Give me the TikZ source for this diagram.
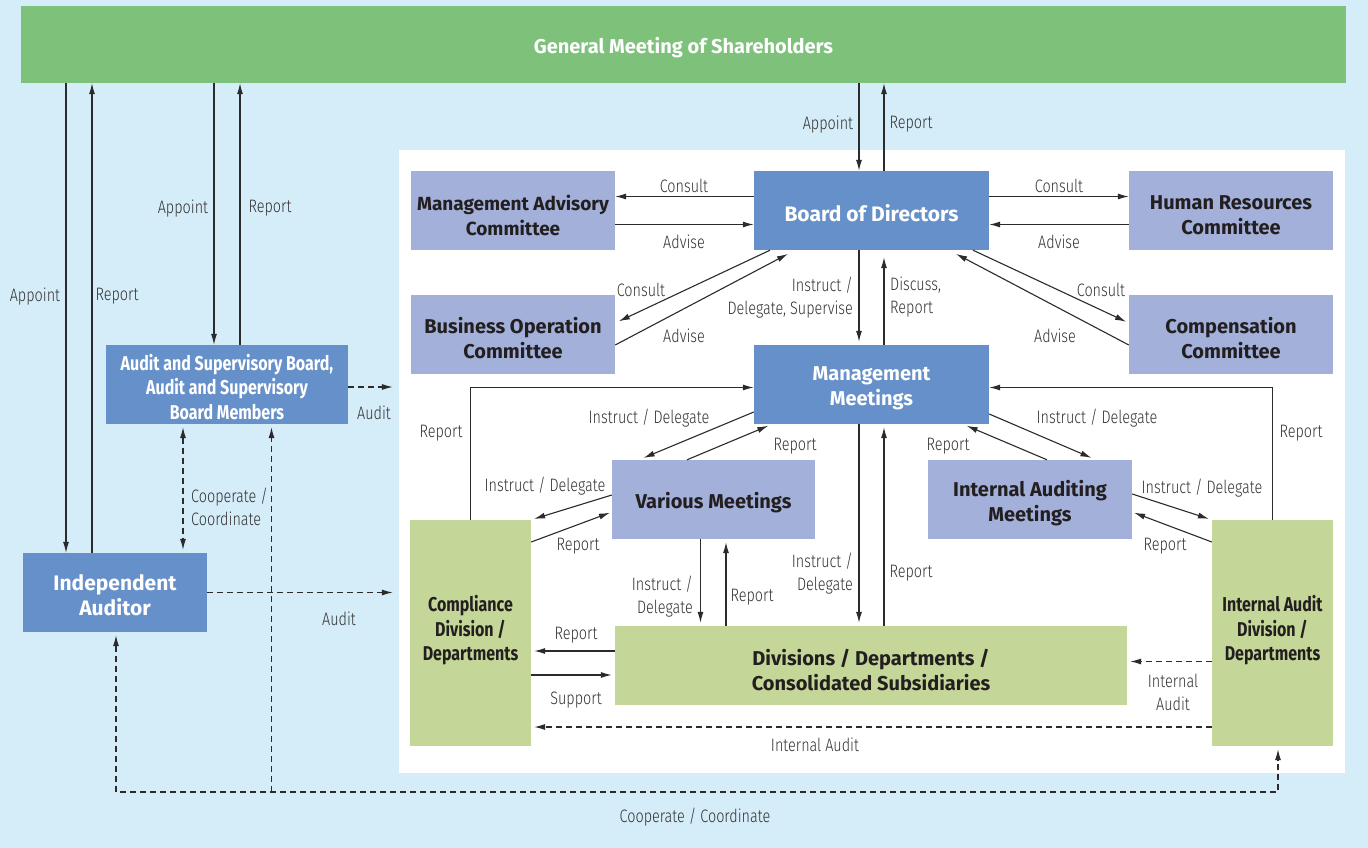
\documentclass[tikz,border=0pt]{standalone}
\usepackage{fontspec}
\setmainfont{Fira Sans}
\newfontfamily\labfont{Fira Sans Light}[FakeStretch=0.8]
\newfontfamily\narrowfont{Fira Sans}[FakeStretch=0.8]
\usetikzlibrary{arrows.meta}
\definecolor{BgBlue}{HTML}{D5ECF9}
\definecolor{TopGreen}{HTML}{7DC17A}
\definecolor{DirBlue}{HTML}{6690C9}
\definecolor{ComPurple}{HTML}{A2B0DA}
\definecolor{DivGreen}{HTML}{C4D698}
\definecolor{TextDark}{HTML}{231F20}
\definecolor{LblGray}{HTML}{333333}
\definecolor{LineGray}{HTML}{2B2B2B}

\begin{document}
\begin{tikzpicture}[x=1pt, y=-1pt,
    >={Latex[length=11pt,width=6pt]},
    tdown/.style={execute at begin node={\rule{0pt}{#1}}},
    box/.style={inner sep=0pt, align=center, font=\bfseries\fontsize{20}{25}\selectfont, tdown=22pt},
    dirbox/.style={box, fill=DirBlue, text=white},
    combox/.style={box, fill=ComPurple, text=TextDark},
    divbox/.style={box, fill=DivGreen, text=TextDark},
    narrow/.style={font=\narrowfont\bfseries\fontsize{20}{24.5}\selectfont},
    tallbox/.style={divbox, narrow, execute at begin node={}, execute at end node={\rule[-10pt]{0pt}{0pt}}},
    lbl/.style={font=\labfont\fontsize{18}{23}\selectfont, text=LblGray, inner sep=0pt, align=center, yshift=-1.5pt},
    arr/.style={->, line width=1.1pt, draw=LineGray},
    darr/.style={arr, dash pattern=on 6pt off 4pt}]

                                \useasboundingbox (0,0) rectangle (1368,848);
                                \fill[BgBlue] (0,0) rectangle (1368,848);
                                \node[fill=white, inner sep=0pt, minimum width=946pt, minimum height=623pt] (pnl) at (872,461.5) {};

                                % boxes
                                \node[box, fill=TopGreen, text=white, minimum width=1325pt, minimum height=77pt] (gms) at (683.5,44.5) {General Meeting of Shareholders};
                                \node[dirbox, minimum width=235pt, minimum height=79pt, font=\bfseries\fontsize{21}{25}\selectfont] (bod) at (871.5,210.5) {Board of Directors};
                                \node[combox, minimum width=204pt, minimum height=79pt, font=\bfseries\fontsize{19}{25}\selectfont, tdown=50pt] (mac) at (513,210.5) {Management Advisory\\Committee};
                                \node[combox, minimum width=204pt, minimum height=79pt, tdown=48pt] (hrc) at (1231,210.5) {Human Resources\\Committee};
                                \node[combox, minimum width=204pt, minimum height=79pt, tdown=48pt] (boc) at (513,334.5) {Business Operation\\Committee};
                                \node[combox, minimum width=204pt, minimum height=79pt, tdown=48pt] (cc) at (1231,334.5) {Compensation\\Committee};
                                \node[dirbox, minimum width=235pt, minimum height=79pt, tdown=46pt] (mm) at (871.5,384.5) {Management\\Meetings};
                                \node[combox, minimum width=203pt, minimum height=79pt] (vm) at (713.5,499.5) {Various Meetings};
                                \node[combox, minimum width=204pt, minimum height=79pt, tdown=48pt] (iam) at (1030,499.5) {Internal Auditing\\Meetings};
                                \node[tallbox, minimum width=121pt, minimum height=226pt] (comp) at (470.5,633) {Compliance\\Division /\\Departments};
                                \node[divbox, minimum width=512pt, minimum height=79pt, tdown=50pt] (dds) at (871,665.5) {Divisions / Departments /\\Consolidated Subsidiaries};
                                \node[tallbox, minimum width=121pt, minimum height=226pt] (iad) at (1272.5,633) {Internal Audit\\Division /\\Departments};
                                \node[dirbox, narrow, minimum width=242pt, minimum height=79pt, tdown=70pt] (asb) at (227,384.5) {Audit and Supervisory Board,\\Audit and Supervisory\\Board Members};
                                \node[dirbox, minimum width=184pt, minimum height=79pt, font=\bfseries\fontsize{21}{25}\selectfont, tdown=46.5pt] (ia) at (115,592.5) {Independent\\Auditor};

                                % shareholders
                                \draw[arr] ([xshift=-49pt]ia.north |- gms.south) -- ([xshift=-49pt]ia.north);
                                \draw[arr] ([xshift=-23pt]ia.north) -- ([xshift=-23pt]ia.north |- gms.south);
                                \draw[arr] ([xshift=-13pt]asb.north |- gms.south) -- ([xshift=-13pt]asb.north);
                                \draw[arr] ([xshift=13pt]asb.north) -- ([xshift=13pt]asb.north |- gms.south);
                                \draw[arr] ([xshift=-12.5pt]bod.north |- gms.south) -- ([xshift=-12.5pt]bod.north);
                                \draw[arr] ([xshift=12.5pt]bod.north) -- ([xshift=12.5pt]bod.north |- gms.south);

                                % board and committees
                                \draw[arr] ([yshift=14pt]bod.west) -- ([yshift=14pt]bod.west -| mac.east);
                                \draw[arr] ([yshift=-14pt]bod.west -| mac.east) -- ([yshift=-14pt]bod.west);
                                \draw[arr] ([yshift=14pt]bod.east) -- ([yshift=14pt]bod.east -| hrc.west);
                                \draw[arr] ([yshift=-14pt]bod.east -| hrc.west) -- ([yshift=-14pt]bod.east);
                                \draw[arr, shorten >=4pt] ([xshift=-101.5pt]bod.south) -- ([yshift=11.5pt]boc.east);
                                \draw[arr, shorten >=8pt] ([yshift=-10.5pt]boc.east) -- ([xshift=-76.5pt]bod.south);
                                \draw[arr, shorten >=3pt] ([xshift=101.5pt]bod.south) -- ([yshift=11.5pt]cc.west);
                                \draw[arr, shorten >=8pt] ([yshift=-10.5pt]cc.west) -- ([xshift=77.5pt]bod.south);
                                \draw[arr, shorten >=3pt] ([xshift=-12.5pt]bod.south) -- ([xshift=-12.5pt]mm.north);
                                \draw[arr, shorten >=7pt] ([xshift=12.5pt]mm.north) -- ([xshift=12.5pt]bod.south);

                                % management meetings
                                \draw[arr] (comp.north) |- ([yshift=-3pt]mm.west);
                                \draw[arr] (iad.north) |- ([yshift=-3pt]mm.east);
                                \draw[arr, shorten >=5pt] ([yshift=-27.5pt]mm.west) -- ([xshift=-74.5pt]vm.north);
                                \draw[arr, shorten >=4pt] ([xshift=-26.5pt]vm.north) -- ([xshift=-99.5pt]mm.south);
                                \draw[arr, shorten >=5pt] ([yshift=-29.5pt]mm.east) -- ([xshift=66pt]iam.north);
                                \draw[arr, shorten >=4pt] ([xshift=17pt]iam.north) -- ([xshift=91.5pt]mm.south);
                                \draw[arr, shorten >=3pt] ([yshift=4.5pt]vm.west) -- (comp.north east);
                                \draw[arr, shorten >=2pt] ([yshift=91pt]comp.east) -- ([yshift=-12.5pt]vm.west);
                                \draw[arr, shorten >=3pt] ([yshift=5.5pt]iam.east) -- (iad.north west);
                                \draw[arr, shorten >=2pt] ([yshift=91pt]iad.west) -- ([yshift=-12.5pt]iam.east);
                                \draw[arr, shorten >=3pt] ([xshift=-13pt]vm.south) -- ([xshift=-13pt]vm.south |- dds.north);
                                \draw[arr, shorten >=3pt] ([xshift=12.5pt]vm.south |- dds.north) -- ([xshift=12.5pt]vm.south);
                                \draw[arr, shorten >=3pt] ([xshift=-12.5pt]mm.south) -- ([xshift=-12.5pt]mm.south |- dds.north);
                                \draw[arr, shorten >=3pt] ([xshift=12.5pt]mm.south |- dds.north) -- ([xshift=12.5pt]mm.south);
                                \draw[arr, shorten >=3pt] ([yshift=14.5pt]dds.west) -- ([yshift=14.5pt]dds.west -| comp.east);
                                \draw[arr, shorten >=3pt] ([yshift=-9.5pt]dds.west -| comp.east) -- ([yshift=-9.5pt]dds.west);

                                % audit lines
                                \draw[darr, shorten >=3pt] ([yshift=4pt]dds.east -| iad.west) -- ([yshift=4pt]dds.east);
                                \draw[darr, shorten >=3pt] ([yshift=-94pt]iad.west) -- ([yshift=-94pt]iad.west -| comp.east);
                                \draw[darr, shorten >=6pt] ([yshift=-2.5pt]asb.east) -- ([yshift=-2.5pt]asb.east -| pnl.west);
                                \draw[darr, shorten >=6pt] (ia.east) -- (ia.east -| pnl.west);
                                \draw[darr, <->, shorten <=3pt, shorten >=3pt] ([xshift=-44pt]asb.south) -- ([xshift=-44pt]asb.south |- ia.north);
                                \coordinate (coop) at (695,792);
                                \draw[darr, <->, shorten <=3pt, shorten >=3pt] ([xshift=1pt]ia.south) -- ([xshift=1pt]ia.south |- coop) -| ([xshift=5.5pt]iad.south);
                                \draw[darr, shorten >=3pt] ([xshift=44.5pt]asb.south |- coop) -- ([xshift=44.5pt]asb.south);

                                % labels
                                \node[lbl] (l1) at (35,295) {Appoint};
                                \node[lbl] (l2) at (117,295) {Report};
                                \node[lbl] (l3) at (183,207) {Appoint};
                                \node[lbl] (l4) at (270,207) {Report};
                                \node[lbl] (l5) at (828,123) {Appoint};
                                \node[lbl] (l6) at (911,123) {Report};
                                \node[lbl] (l7) at (684,184) {Consult};
                                \node[lbl] (l8) at (684,240) {Advise};
                                \node[lbl] (l9) at (1059,184) {Consult};
                                \node[lbl] (l10) at (1059,240) {Advise};
                                \node[lbl] (l11) at (641,288) {Consult};
                                \node[lbl] (l12) at (684,334) {Advise};
                                \node[lbl] (l13) at (1101,288) {Consult};
                                \node[lbl] (l14) at (1055,334) {Advise};
                                \node[lbl, align=right, anchor=east] (l15) at (853,296) {Instruct /\\Delegate, Supervise};
                                \node[lbl, align=left, anchor=west] (l16) at (890,296) {Discuss,\\Report};
                                \node[lbl] (l17) at (441,432) {Report};
                                \node[lbl] (l18) at (1301,432) {Report};
                                \node[lbl] (l19) at (649,417) {Instruct / Delegate};
                                \node[lbl] (l20) at (795,445) {Report};
                                \node[lbl] (l21) at (1097,417) {Instruct / Delegate};
                                \node[lbl] (l22) at (948,445) {Report};
                                \node[lbl] (l23) at (545,485) {Instruct / Delegate};
                                \node[lbl] (l24) at (578,545) {Report};
                                \node[lbl] (l25) at (1202,487) {Instruct / Delegate};
                                \node[lbl] (l26) at (1165,545) {Report};
                                \node[lbl, align=right, anchor=east] (l27) at (693,595) {Instruct /\\Delegate};
                                \node[lbl] (l28) at (752,596) {Report};
                                \node[lbl, align=right, anchor=east] (l29) at (853,572) {Instruct /\\Delegate};
                                \node[lbl] (l30) at (911,572) {Report};
                                \node[lbl] (l31) at (576,634) {Report};
                                \node[lbl] (l32) at (576,699) {Support};
                                \node[lbl] (l33) at (1173,691) {Internal\\Audit};
                                \node[lbl] (l34) at (815,743) {Internal Audit};
                                \node[lbl] (l35) at (374,411) {Audit};
                                \node[lbl] (l36) at (339,617) {Audit};
                                \node[lbl, align=left, anchor=west] (l37) at (191,505) {Cooperate /\\Coordinate};
                                \node[lbl] (l38) at (695,816) {Cooperate / Coordinate};
\end{tikzpicture}
\end{document}
